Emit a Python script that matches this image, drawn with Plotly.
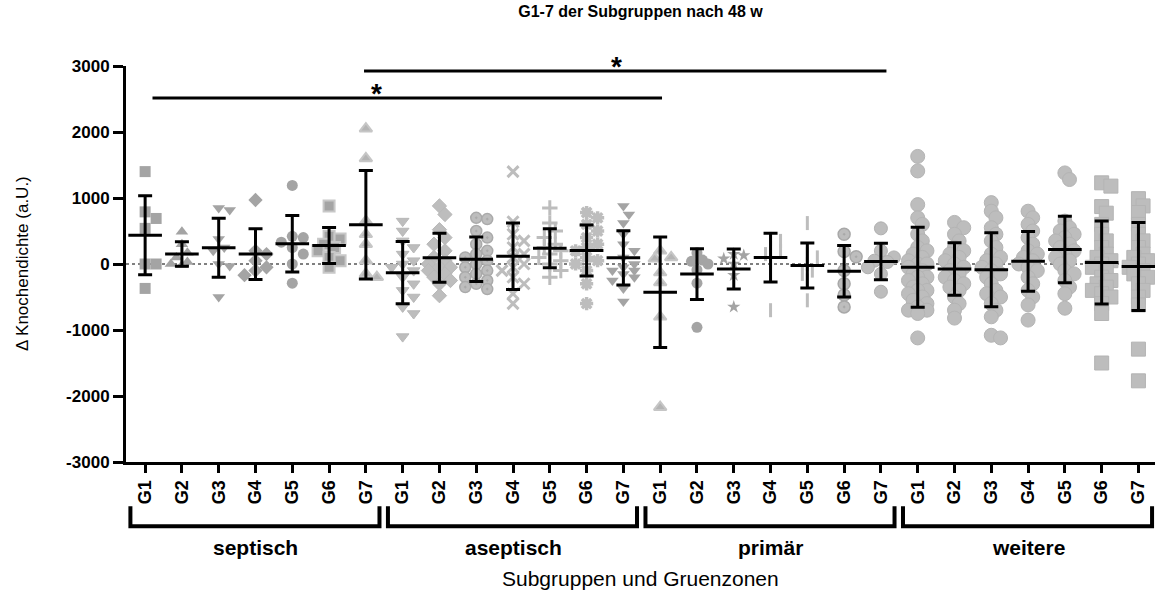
import numpy as np
import plotly.graph_objects as go

zones = ['G1', 'G2', 'G3', 'G4', 'G5', 'G6', 'G7']
groups = ['septisch', 'aseptisch', 'primär', 'weitere']

septisch = [
    [1400, 790, 690, 540, 0, 0, -370],
    [490, 300, 170, 100, 30, 0, -20],
    [850, 820, 380, 250, 200, 0, -30, -500],
    [970, 200, 150, 50, -50, -100, -170],
    [1190, 420, 400, 330, 250, 150, 0, -290],
    [880, 420, 380, 300, 250, 200, 100, 50, -50],
    [2050, 1600, 650, 450, 300, 50, -150, -200],
]
aseptisch = [
    [650, 500, 350, 250, 150, 50, 0, -50, -100, -200, -300, -400, -500, -650, -750, -1100],
    [880, 750, 520, 400, 300, 200, 100, 50, 0, -50, -50, -100, -150, -200, -250, -300, -480],
    [700, 680, 500, 400, 300, 200, 150, 100, 50, 0, -50, -100, -150, -200, -250, -300, -350, -380],
    [1400, 640, 450, 350, 250, 150, 100, 0, -50, -100, -200, -300, -450, -600],
    [850, 620, 500, 400, 300, 250, 200, 150, 100, 50, 0, -100, -200],
    [780, 700, 600, 500, 400, 300, 250, 200, 100, 50, 0, -100, -300, -600],
    [880, 750, 620, 450, 300, 200, 100, 0, -50, -100, -100, -150, -200, -250, -370, -570],
]
primaer = [
    [200, 100, 80, -130, -280, -800, -2170],
    [170, 60, 40, 0, -90, -290, -960],
    [150, 130, 80, 0, -170, -650],
    [380, 350, 250, 200, 150, 50, -700],
    [620, 150, 100, 0, -100, -150, -250, -550],
    [450, 190, 110, -100, -300, -470, -650],
    [540, 200, 100, 50, 30, -50, -150, -420],
]
weitere = [
    [1630, 1410, 900, 700, 600, 450, 350, 250, 200, 150, 100, 50, 0, 0, -50, -100, -150, -200, -200,
     -250, -300, -350, -400, -400, -450, -500, -550, -600, -650, -700, -700, -750, -1120],
    [630, 550, 450, 350, 250, 200, 150, 100, 50, 0, -50, -100, -150, -200, -250, -300, -350, -400,
     -500, -600, -700, -820],
    [930, 800, 700, 550, 450, 350, 250, 150, 100, 50, 0, -50, -100, -150, -200, -300, -400, -450,
     -500, -600, -700, -800, -1080, -1120],
    [800, 700, 600, 500, 400, 300, 200, 150, 100, 50, 0, -50, -100, -200, -300, -400, -500, -620, -850],
    [1380, 1280, 650, 550, 500, 450, 400, 350, 300, 250, 200, 150, 100, 50, 0, -100, -150, -250,
     -350, -450, -670],
    [1230, 1180, 870, 770, 600, 450, 350, 250, 150, 100, 50, 0, -50, -100, -200, -250, -300, -350,
     -400, -450, -500, -600, -750, -1500],
    [990, 880, 780, 600, 450, 350, 250, 150, 100, 50, 0, -50, -100, -150, -200, -300, -400, -500,
     -620, -1290, -1770],
]

# Signifikanz: (von Spalte, bis Spalte, Hoehe)
sig_lines = [(0.2, 14.05, 2515), (5.95, 20.15, 2924)]
sig_stars = [(6.3, 2515), (12.8, 2924)]

DARK = '#a4a4a4'
LIGHT = '#bdbdbd'
FONT = 'Arial, Liberation Sans, sans-serif'

# Symbol, Farbe, Randfarbe, Randbreite, Groesse je Spalte
styles = [
    ('square', DARK, DARK, 0, 11), ('triangle-up', DARK, DARK, 0, 11), ('triangle-down', DARK, DARK, 0, 11),
    ('diamond', DARK, DARK, 0, 11), ('circle', DARK, DARK, 0, 11), ('square', DARK, '#c8c8c8', 2, 11),
    ('triangle-up', '#b4b4b4', '#c6c6c6', 2, 11),
    ('triangle-down', LIGHT, '#b8b8b8', 1, 11), ('diamond', LIGHT, '#b8b8b8', 1, 11),
    ('circle-dot', LIGHT, '#aaaaaa', 1.5, 11), ('x-thin', LIGHT, LIGHT, 3, 11),
    ('cross-thin', LIGHT, LIGHT, 3, 11), ('asterisk', LIGHT, LIGHT, 3.5, 11),
    ('triangle-down', DARK, DARK, 0, 11),
    ('triangle-up', '#b4b4b4', '#c6c6c6', 2, 11), ('circle', DARK, DARK, 0, 11),
    ('star', DARK, DARK, 0, 10), ('line-ns', LIGHT, LIGHT, 3, 10), ('line-ns', LIGHT, LIGHT, 3, 10),
    ('circle-dot', LIGHT, '#a8a8a8', 1.5, 12), ('circle', LIGHT, '#b0b0b0', 1, 13),
    ('circle', LIGHT, '#b4b4b4', 1, 14), ('circle', LIGHT, '#b4b4b4', 1, 14), ('circle', LIGHT, '#b4b4b4', 1, 14),
    ('circle', LIGHT, '#b4b4b4', 1, 14), ('circle', LIGHT, '#b4b4b4', 1, 14), ('square', LIGHT, '#b4b4b4', 1, 14),
    ('square', LIGHT, '#b4b4b4', 1, 14),
]

PX_Y = 396 / 6000.0
PX_X = 1029 / 27.97


def swarm(vals, size, step, mind, maxk):
    # einfache Bienenschwarm-Verteilung, begrenzt auf +-maxk Schritte
    vals = np.asarray(vals, dtype=float)
    order = np.argsort(-vals, kind='stable')
    placed = []
    offs = np.zeros(len(vals))
    cand = [0]
    for j in range(1, maxk + 1):
        cand += [j, -j]
    for i in order:
        py = vals[i] * PX_Y
        best, best_d = 0.0, -1
        for c in cand:
            px = c * size * step
            d = min([np.hypot(px - qx, py - qy) for qx, qy in placed] or [1e9])
            if d >= size * mind:
                best = px
                break
            if d > best_d:
                best, best_d = px, d
        placed.append((best, py))
        offs[i] = best / PX_X
    return offs


columns = septisch + aseptisch + primaer + weitere
fig = go.Figure()

for k, vals in enumerate(columns):
    sym, col, lcol, lw, sz = styles[k]
    if k >= 21:
        offs = swarm(vals, sz, 0.33, 0.55, 2)
    else:
        offs = swarm(vals, sz, 0.5, 0.8, 2)
    xs = k + offs
    fig.add_trace(go.Scatter(
        x=xs.tolist(), y=vals, mode='markers', showlegend=False, cliponaxis=False,
        marker=dict(symbol=sym, color=col, size=sz, line=dict(color=lcol, width=lw)),
        hoverinfo='y'))

means = [float(np.mean(v)) for v in columns]
sds = [float(np.std(v, ddof=1)) for v in columns]
fig.add_trace(go.Scatter(
    x=list(range(len(columns))), y=means, mode='markers', showlegend=False, cliponaxis=False,
    marker=dict(symbol='line-ew', size=24, color='black', line=dict(color='black', width=3)),
    error_y=dict(type='data', array=sds, color='black', thickness=3, width=7)))

# gepunktete Nulllinie
fig.add_shape(type='line', x0=-0.52, x1=27.45, y0=0, y1=0, xref='x', yref='y', layer='below',
              line=dict(color='black', width=1, dash='dot'))

for x0, x1, h in sig_lines:
    fig.add_shape(type='line', x0=x0, x1=x1, y0=h, y1=h, xref='x', yref='y',
                  line=dict(color='black', width=3))
for xs_, h in sig_stars:
    fig.add_annotation(x=xs_, y=h, xref='x', yref='y', text='<b>*</b>', showarrow=False,
                       xanchor='center', yanchor='bottom', yshift=-13,
                       font=dict(size=28, color='black', family=FONT))

# Klammern unter der Achse
for g, name in enumerate(groups):
    a, b = 7 * g - 0.4, 7 * g + 6.37
    fig.add_shape(type='path', xref='x', yref='paper',
                  path=f'M {a},-0.112 L {a},-0.162 L {b},-0.162 L {b},-0.112',
                  line=dict(color='black', width=4))
    fig.add_annotation(x=7 * g + 3, y=-0.215, xref='x', yref='paper', text=name, showarrow=False,
                       xanchor='center', yanchor='middle',
                       font=dict(size=21, color='black', family=FONT, weight='bold'))

fig.add_annotation(x=0.5, y=-0.293, xref='paper', yref='paper', text='Subgruppen und Gruenzonen',
                   showarrow=False, xanchor='center', yanchor='middle',
                   font=dict(size=21, color='black', family=FONT))
fig.add_annotation(x=-0.101, y=0.5, xref='paper', yref='paper', text='Δ Knochendichte (a.U.)',
                   textangle=-90, showarrow=False, xanchor='center', yanchor='middle',
                   font=dict(size=17, color='black', family=FONT))

yticks = list(range(-3000, 3001, 1000))
fig.update_layout(
    width=1155, height=594,
    margin=dict(l=126, r=0, t=66, b=132),
    plot_bgcolor='white', paper_bgcolor='white',
    title=dict(text='<b>G1-7 der Subgruppen nach 48 w</b>', x=0.5, xref='paper', xanchor='center',
               y=0.98, yanchor='middle', font=dict(size=16, color='black', family=FONT)),
    xaxis=dict(range=[-0.52, 27.45], tickvals=list(range(28)), ticktext=zones * 4, tickangle=-90,
               ticks='outside', ticklen=8, tickwidth=3, tickcolor='black', showline=True, linewidth=3,
               linecolor='black', showgrid=False, zeroline=False,
               tickfont=dict(size=18, color='black', family=FONT, weight='bold')),
    yaxis=dict(range=[-3000, 3000], tickvals=yticks, ticktext=[str(t) for t in yticks],
               ticks='outside', ticklen=10, tickwidth=3, tickcolor='black', showline=True, linewidth=3,
               linecolor='black', showgrid=False, zeroline=False,
               tickfont=dict(size=17, color='black', family=FONT, weight='bold')),
)

fig.write_html('out.html', config={'displayModeBar': False},
               post_script="document.body.style.margin='0px';")
